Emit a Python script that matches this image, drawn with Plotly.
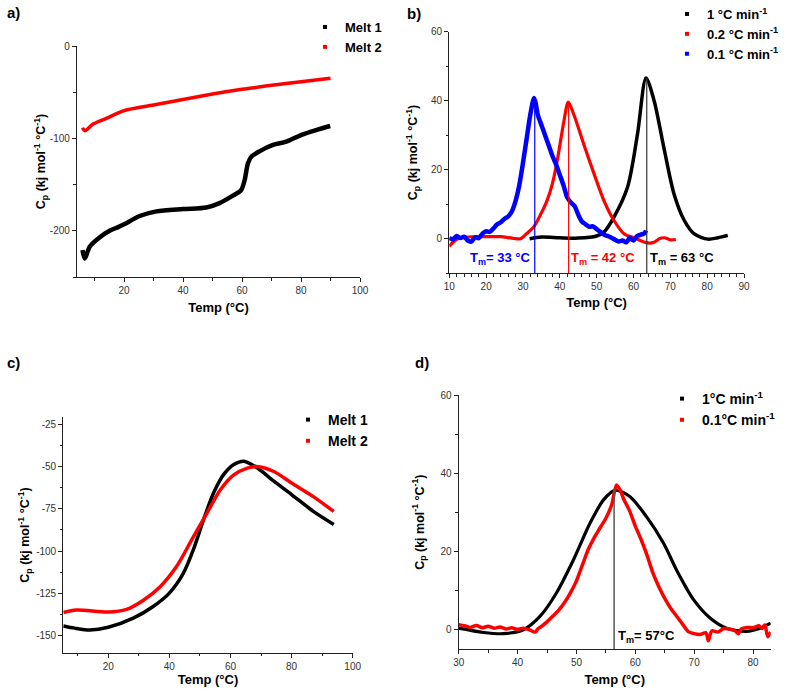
import plotly.graph_objects as go

W, H = 787, 692
FONT = "Arial, Liberation Sans, sans-serif"

# ---------------- data ----------------
# Panel a
a_m1_temp = [5.9, 6.7, 8.4, 11.8, 15.1, 18, 20, 25.3, 31, 40, 47.9, 52.4, 56.9, 59.7, 60.9, 62, 63.1, 65.9, 70.5, 75, 80, 85.1, 89.9]
a_m1_cp = [-221, -230, -217, -207, -200, -196, -193, -184, -179, -176.5, -174.7, -170, -162, -156, -145, -127, -120, -114, -107, -103.6, -96.4, -91, -86.6]
a_m2_temp = [5.9, 6.7, 9.5, 14, 20, 30, 40, 50, 60, 70, 80, 90]
a_m2_cp = [-88.4, -91.7, -84.5, -78.3, -70, -63.9, -57.8, -52, -46.9, -42.6, -38.6, -35]

# Panel b
b_1_temp = [31.8, 35, 40, 45, 50, 52, 54.7, 58.4, 61.1, 63.4, 65.6, 68.4, 71, 73.8, 76.5, 80.2, 82.9, 85.6]
b_1_cp = [0, 0.5, 0.3, 0.2, 0.8, 2, 6.3, 15, 30.4, 46.6, 40, 25.6, 13, 5.3, 1.4, -0.1, 0.3, 1]
b_02_temp = [10, 11, 13, 17, 20, 24, 27, 29.3, 31, 32.9, 35, 36.5, 38, 39.3, 41.1, 42.3, 43.8, 46.5, 49.3, 52,
             54.7, 57.5, 60.2, 63.8, 65.6, 67, 68.4, 70, 71.5]
b_02_cp = [-2.2, -1.0, 0.3, 0.6, 0.6, 0.6, 0.2, 0.0, 1.5, 3.4, 7.5, 11, 16, 22.6, 34, 39.6, 36, 27.4, 18.8, 11,
           5.3, 1.4, 0.3, -1.2, -1, 0, 0.3, -0.3, -0.2]
b_01_temp = [10, 11, 12, 13, 14, 15, 16, 17, 18, 19, 20, 21, 22, 23, 24, 25, 26, 27, 28, 29, 30, 31, 32, 33,
             33.5, 34, 35, 36, 37, 38, 39, 40, 41, 42, 43, 44, 45, 46, 47, 48, 49, 50, 51, 52, 53, 54, 55,
             56, 57, 58, 59, 60, 61, 62, 63, 63.4]
b_01_cp = [0.3, -0.2, 0.8, 0.2, 0.6, -0.5, -0.8, 0.4, 0.2, 1.5, 2.2, 2.0, 3.0, 4.2, 4.8, 5.8, 6.5, 8.0, 11.0,
           15.5, 22, 29, 36, 40.8, 39, 36, 33, 30, 27, 24, 21.5, 18.5, 15.5, 12, 10.5, 9.5, 7, 5, 4.2, 3.5,
           3.6, 2.8, 2, 1.2, 0.8, 0.3, -0.3, -0.8, -0.5, -1.0, 0.2, -0.5, 0.8, 1.2, 1.6, 2.4]
b_tm = [33.2, 42.4, 63.6]
b_tm_peak = [40.8, 39.6, 46.6]
b_tm_labels = ["T<sub>m</sub>= 33 °C", "T<sub>m</sub> = 42 °C", "T<sub>m</sub> = 63 °C"]

# Panel c
c_m1_temp = [5.3, 9, 14, 20, 28.2, 34.7, 40, 44.6, 47.9, 51.2, 54.5, 57.8, 61.1, 64.4, 68.7, 74.2, 80, 87, 93.8]
c_m1_cp = [-144.2, -145.5, -146.6, -145, -139.6, -132.7, -124.8, -113, -99, -81.4, -65.6, -54.7, -48.8, -46.9,
           -50.8, -58.7, -66.6, -76.4, -84.3]
c_m2_temp = [5.3, 9.6, 20, 26, 31.5, 37, 42.4, 47.9, 52.3, 56.7, 61.1, 65.5, 68.7, 74.2, 80, 87, 93.8]
c_m2_cp = [-136.3, -134.8, -136, -134.4, -129, -121, -109, -91.4, -77.6, -63.8, -55, -51, -50, -53, -59.8,
           -67.7, -76.6]

# Panel d
d_1_temp = [30, 34.2, 37.6, 41, 43.8, 46.6, 49.5, 52.3, 54.6, 56.6, 59.1, 61.9, 64.8, 67, 69.9, 72.7, 75.5, 78.9, 81.2, 83]
d_1_cp = [0.4, -0.7, -1, 0, 3.4, 9.4, 17.9, 27.2, 33.2, 35.7, 34, 28.9, 22.1, 15.3, 7.7, 3, 0.4, -0.4, 0.4, 1.7]
d_01_temp = [30, 31, 32, 33, 34, 35, 36, 37, 38, 39, 40, 41, 42, 43, 43.5, 44, 45, 46, 47, 48, 49, 50, 51, 52,
             53, 54, 55, 56, 56.8, 57.5, 58, 59, 60, 61, 62, 63, 64, 65, 66, 67, 68, 69, 70, 71, 72, 72.4,
             73, 74, 75, 76, 77, 77.5, 78, 79, 80, 81, 81.5, 82, 82.5, 83]
d_01_cp = [1.3, 1.0, 0.6, 1.1, 0.5, 0.9, 0.4, 0.7, 0.2, 0.5, 0.1, 0.4, 0.0, -0.6, 0.3, 0.8, 2.0, 3.5, 5.0, 7.0,
           9.5, 12.5, 16.5, 20.5, 23.5, 26, 28.5, 32, 37, 35.5, 33.5, 30.5, 26.5, 23, 19, 14.5, 11, 8, 5.5,
           3.5, 1.5, -0.5, -1.0, -1.2, -0.8, -2.8, -0.3, -0.6, 0.3, 0.2, -0.3, -1.0, 0.2, 0.6, 0.5, 1.0, 0.3,
           1.2, -1.8, -0.6]
d_tm = [56.4]
d_tm_peak = [36.0]
d_tm_labels = ["T<sub>m</sub>= 57°C"]

# tick labels
a_yticks = [0, -100, -200]
a_yticklabels = ["0", "-100", "-200"]
c_yticks = [-25, -50, -75, -100, -125, -150]
c_yticklabels = ["-25", "-50", "-75", "-100", "-125", "-150"]

# ---------------- helpers ----------------
def px_x(p):
    return p / W

def px_y(p):
    return 1 - p / H

RED = "#ff0000"
BLUE = "#0000ff"
BLACK = "#000000"

fig = go.Figure()

def line(x, y, color, width, xa, ya):
    fig.add_trace(go.Scatter(x=x, y=y, mode="lines", line=dict(color=color, width=width, shape="spline", smoothing=0.8),
                             xaxis=xa, yaxis=ya, showlegend=False, hoverinfo="skip"))

def legend_entry(name, color, legend, xa, ya):
    fig.add_trace(go.Scatter(x=[None], y=[None], mode="markers", name=name,
                             marker=dict(color=color, size=4, symbol="square"),
                             xaxis=xa, yaxis=ya, legend=legend))

# panel a
line(a_m1_temp, a_m1_cp, BLACK, 4.5, "x", "y")
line(a_m2_temp, a_m2_cp, RED, 3.5, "x", "y")
legend_entry("Melt 1", BLACK, "legend", "x", "y")
legend_entry("Melt 2", RED, "legend", "x", "y")

# panel b
line(b_1_temp, b_1_cp, BLACK, 3.5, "x2", "y2")
line(b_02_temp, b_02_cp, RED, 3.2, "x2", "y2")
line(b_01_temp, b_01_cp, BLUE, 4.5, "x2", "y2")
legend_entry("1 °C min<sup>-1</sup>", BLACK, "legend2", "x2", "y2")
legend_entry("0.2 °C min<sup>-1</sup>", RED, "legend2", "x2", "y2")
legend_entry("0.1 °C min<sup>-1</sup>", BLUE, "legend2", "x2", "y2")

# panel c
line(c_m1_temp, c_m1_cp, BLACK, 3.5, "x3", "y3")
line(c_m2_temp, c_m2_cp, RED, 3.5, "x3", "y3")
legend_entry("Melt 1", BLACK, "legend3", "x3", "y3")
legend_entry("Melt 2", RED, "legend3", "x3", "y3")

# panel d
line(d_1_temp, d_1_cp, BLACK, 3.2, "x4", "y4")
line(d_01_temp, d_01_cp, RED, 3.5, "x4", "y4")
legend_entry("1°C min<sup>-1</sup>", BLACK, "legend4", "x4", "y4")
legend_entry("0.1°C min<sup>-1</sup>", RED, "legend4", "x4", "y4")

# Tm lines
b_colors = [BLUE, RED, "#333333"]
for t, pk, c in zip(b_tm, b_tm_peak, b_colors):
    fig.add_shape(type="line", xref="x2", yref="y2", x0=t, x1=t, y0=-10, y1=pk, line=dict(color=c, width=1.2))
for t, pk in zip(d_tm, d_tm_peak):
    fig.add_shape(type="line", xref="x4", yref="y4", x0=t, x1=t, y0=-5, y1=pk, line=dict(color="#555555", width=1.5))

ann_font = dict(family=FONT, size=13, weight="bold")
fig.add_annotation(x=b_tm[0], y=-5.6, xref="x2", yref="y2", text=b_tm_labels[0], showarrow=False,
                   xanchor="right", xshift=-2, font=dict(ann_font, color=BLUE))
fig.add_annotation(x=b_tm[1], y=-5.6, xref="x2", yref="y2", text=b_tm_labels[1], showarrow=False,
                   xanchor="left", xshift=0, font=dict(ann_font, color=RED))
fig.add_annotation(x=b_tm[2], y=-5.6, xref="x2", yref="y2", text=b_tm_labels[2], showarrow=False,
                   xanchor="left", xshift=1, font=dict(ann_font, color=BLACK))
fig.add_annotation(x=d_tm[0], y=-1.6, xref="x4", yref="y4", text=d_tm_labels[0], showarrow=False,
                   xanchor="left", xshift=2, font=dict(ann_font, color=BLACK))

# panel letters
for txt, xp, yp in [("a)", 5, 12), ("b)", 405, 14), ("c)", 5, 363), ("d)", 413, 363)]:
    fig.add_annotation(x=px_x(xp), y=px_y(yp), xref="paper", yref="paper", text=txt, showarrow=False,
                       xanchor="left", yanchor="middle", font=dict(family=FONT, size=15, weight="bold", color=BLACK))

axis_common = dict(showline=True, linecolor="#222222", linewidth=1.3, ticks="outside", ticklen=4,
                   tickcolor="#222222", tickwidth=1, showgrid=False, zeroline=False, mirror=False,
                   automargin=False,
                   tickfont=dict(family=FONT, size=10, color="#333333"))
xtitle = dict(text="Temp (°C)", font=dict(family=FONT, size=13, weight="bold", color=BLACK))
ytitle = dict(text="C<sub>p</sub> (kj mol<sup>-1</sup> °C<sup>-1</sup>)", font=dict(family=FONT, size=12.5, weight="bold", color=BLACK))

def minor(d):
    return dict(dtick=d, ticks="outside", ticklen=2.5, tickcolor="#222222", showgrid=False)

layout = dict(
    width=W, height=H, margin=dict(l=0, r=0, t=0, b=0, autoexpand=False),
    paper_bgcolor="white", plot_bgcolor="white", showlegend=True,
    xaxis=dict(axis_common, domain=[px_x(77), px_x(360)], range=[4.05, 100], dtick=20, tick0=0, minor=minor(10),
               anchor="y", title=dict(xtitle, standoff=7)),
    yaxis=dict(axis_common, domain=[px_y(277), px_y(46)], range=[-250, 0], tickvals=a_yticks, ticktext=a_yticklabels,
               minor=minor(50), anchor="x", title=dict(ytitle, standoff=1)),
    xaxis2=dict(axis_common, domain=[px_x(449.3), px_x(744)], range=[10, 90], dtick=10, tick0=0, minor=minor(2),
                anchor="y2", title=dict(xtitle, standoff=6)),
    yaxis2=dict(axis_common, domain=[px_y(273.3), px_y(31.7)], range=[-10, 60], dtick=20, tick0=0, minor=minor(10),
                anchor="x2", title=dict(ytitle, standoff=10)),
    xaxis3=dict(axis_common, domain=[px_x(63.3), px_x(352.7)], range=[5.3, 100], dtick=20, tick0=0, minor=minor(10),
                anchor="y3", title=dict(xtitle, standoff=4)),
    yaxis3=dict(axis_common, domain=[px_y(652.7), px_y(417.3)], range=[-160, -21], tickvals=c_yticks,
                ticktext=c_yticklabels, minor=minor(12.5), anchor="x3", title=dict(ytitle, standoff=3)),
    xaxis4=dict(axis_common, domain=[px_x(458.7), px_x(770.7)], range=[30, 83], dtick=10, tick0=0, minor=minor(5),
                anchor="y4", title=dict(xtitle, standoff=7)),
    yaxis4=dict(axis_common, domain=[px_y(649.3), px_y(395)], range=[-5, 60], dtick=20, tick0=0, minor=minor(10),
                anchor="x4", title=dict(ytitle, standoff=13)),
)

def leg(xp, yp, size):
    return dict(x=px_x(xp), y=px_y(yp), xanchor="left", yanchor="top", bgcolor="rgba(0,0,0,0)",
                font=dict(family=FONT, size=size, weight="bold", color=BLACK), itemwidth=30,
                tracegroupgap=0)

layout["legend"] = leg(305, 12, 13)
layout["legend2"] = leg(667, -1, 13)
layout["legend3"] = leg(288, 404, 14)
layout["legend4"] = leg(662, 383, 14)

fig.update_layout(**layout)
fig.write_html("out.html", config={"displayModeBar": False},
               post_script="document.body.style.margin='0';document.body.style.overflow='hidden';")
